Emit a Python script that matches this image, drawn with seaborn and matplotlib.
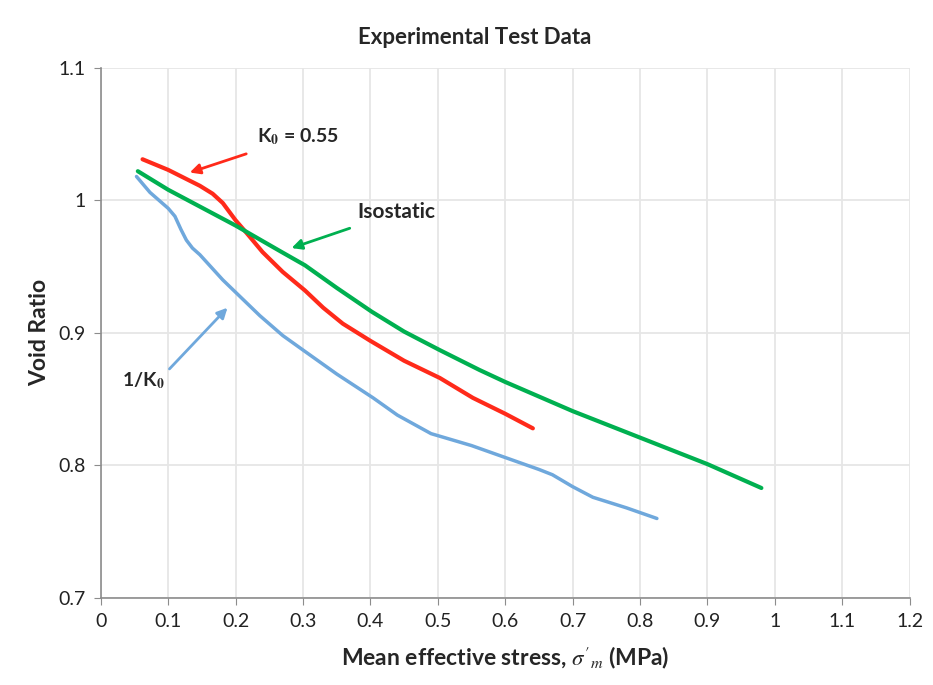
import numpy as np
import pandas as pd
import matplotlib
matplotlib.use("Agg")
import matplotlib.pyplot as plt
import seaborn as sns
from matplotlib.ticker import FuncFormatter, MultipleLocator

k0_stress = [0.062, 0.100, 0.147, 0.166, 0.181, 0.200, 0.217, 0.240, 0.270, 0.303,
             0.330, 0.359, 0.400, 0.450, 0.503, 0.552, 0.600, 0.641]
k0_void = [1.031, 1.023, 1.011, 1.005, 0.998, 0.985, 0.975, 0.961, 0.946, 0.932,
           0.919, 0.907, 0.894, 0.879, 0.866, 0.851, 0.839, 0.828]

iso_stress = [0.055, 0.100, 0.200, 0.265, 0.303, 0.350, 0.402, 0.450, 0.503, 0.562,
              0.600, 0.700, 0.800, 0.900, 0.980]
iso_void = [1.022, 1.008, 0.981, 0.962, 0.951, 0.934, 0.916, 0.901, 0.887, 0.872,
            0.863, 0.841, 0.821, 0.801, 0.783]

inv_stress = [0.053, 0.073, 0.100, 0.110, 0.119, 0.127, 0.136, 0.147, 0.181, 0.236,
              0.270, 0.303, 0.350, 0.404, 0.440, 0.490, 0.550, 0.600, 0.650, 0.670,
              0.700, 0.730, 0.780, 0.825]
inv_void = [1.018, 1.006, 0.994, 0.988, 0.978, 0.970, 0.964, 0.959, 0.940, 0.913,
            0.898, 0.886, 0.869, 0.851, 0.838, 0.824, 0.815, 0.806, 0.797, 0.793,
            0.784, 0.776, 0.768, 0.760]

red = "#ff2a1a"
green = "#00b050"
blue = "#6fa8dc"

sns.set_style("whitegrid")
plt.rcParams['font.family'] = ['Lato', 'DejaVu Sans']
plt.rcParams['mathtext.fontset'] = 'stix'

fig = plt.figure(figsize=(9.33, 6.85), dpi=100)
ax = fig.add_axes([0.108, 0.127, 0.867, 0.774])

line_kw = dict(sort=False, ax=ax, solid_capstyle="round", solid_joinstyle="round")
sns.lineplot(x=k0_stress, y=k0_void, color=red, lw=3, **line_kw)
sns.lineplot(x=iso_stress, y=iso_void, color=green, lw=3, **line_kw)
sns.lineplot(x=inv_stress, y=inv_void, color=blue, lw=2.5, **line_kw)

ax.set_xlim(0, 1.2)
ax.set_ylim(0.7, 1.1)
ax.xaxis.set_major_locator(MultipleLocator(0.1))
ax.yaxis.set_major_locator(MultipleLocator(0.1))
fmt = FuncFormatter(lambda v, p: f"{round(v, 2):g}")
ax.xaxis.set_major_formatter(fmt)
ax.yaxis.set_major_formatter(fmt)

ax.grid(True, color="#e6e6e6", lw=1.3)
for s in ["top", "right"]:
    ax.spines[s].set_visible(False)
for s in ["left", "bottom"]:
    ax.spines[s].set_color("#8c8c8c")
    ax.spines[s].set_linewidth(1.2)
ax.tick_params(axis="both", labelsize=14, colors="#8c8c8c", labelcolor="#222222",
               length=5, direction="out", bottom=True, left=True, pad=6)

fig.text(0.509, 0.945, "Experimental Test Data", fontsize=16, fontweight="bold",
         ha="center", va="center")
ax.set_xlabel(r"Mean effective stress, $\sigma'_m$ (MPa)", fontsize=16.5, fontweight="bold", labelpad=10)
ax.set_ylabel("Void Ratio", fontsize=16.5, fontweight="bold", labelpad=6)

ax.annotate(r"K$_\mathbf{0}$ = 0.55", xy=(0.132, 1.021), xytext=(0.232, 1.048),
            fontsize=14, fontweight="bold", va="center", ha="left",
            arrowprops=dict(arrowstyle="-|>", color=red, lw=2, mutation_scale=15, shrinkA=8, shrinkB=0))
ax.annotate("Isostatic", xy=(0.283, 0.964), xytext=(0.381, 0.991),
            fontsize=15, fontweight="bold", va="center", ha="left",
            arrowprops=dict(arrowstyle="-|>", color=green, lw=2, mutation_scale=15, shrinkA=6, shrinkB=0))
ax.annotate(r"1/K$_\mathbf{0}$", xy=(0.188, 0.919), xytext=(0.031, 0.864),
            fontsize=14, fontweight="bold", va="center", ha="left",
            arrowprops=dict(arrowstyle="-|>", color=blue, lw=2, mutation_scale=15, shrinkA=2, shrinkB=0,
                            relpos=(1.0, 0.8)))

fig.savefig("out.png", dpi=100)
